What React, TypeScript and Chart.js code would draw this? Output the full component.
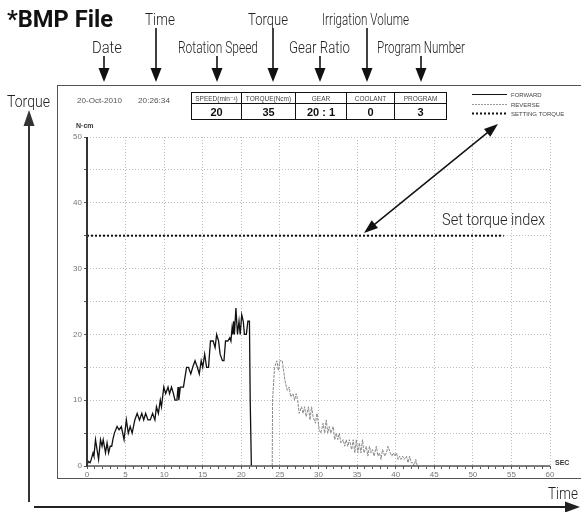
import { useEffect, useRef } from 'react';
import { Chart, registerables } from 'chart.js';

Chart.register(...registerables);

// ---- data ----
const forwardTime = [0, 0.15, 0.4, 0.55, 0.78, 0.9, 1.1, 1.5, 1.75, 1.95, 2.1, 2.4, 2.6, 2.8, 3.0, 3.2, 3.35, 3.55, 3.9, 4.15, 4.45, 4.8, 5.1, 5.35, 5.6, 5.85, 6.2, 6.5, 6.8, 7.1, 7.35, 7.6, 7.9, 8.2, 8.5, 8.8, 9.0, 9.25, 9.5, 9.65, 9.95, 10.2, 10.5, 10.7, 10.95, 11.2, 11.4, 11.65, 11.8, 11.9, 12.1, 12.5, 12.9, 13.15, 13.45, 13.7, 14.0, 14.3, 14.55, 14.8, 15.0, 15.25, 15.5, 15.75, 16.0, 16.35, 16.6, 16.8, 17.05, 17.25, 17.55, 17.75, 17.95, 18.25, 18.5, 18.65, 18.8, 18.9, 19.0, 19.1, 19.3, 19.5, 19.7, 19.85, 20.05, 20.25, 20.4, 20.65, 20.85, 21.05, 21.15, 21.3];
const forwardTorque = [0, 0.7, 0.5, 1, 2, 1.5, 4, 1, 4, 3, 4, 2, 3.5, 2, 3, 3, 4, 5, 6, 5.5, 6, 4, 7, 5, 6, 5, 7, 8, 7, 8, 7, 8, 7, 7, 8, 7, 9, 8, 10, 9, 12, 11, 12, 11, 12, 11, 10, 10, 12, 10, 12, 12, 15, 15, 14, 15, 16, 15, 14, 16, 15, 17, 15, 15, 19, 19, 18, 20, 19, 17, 16, 16, 19, 19, 19.5, 19, 21, 20, 22, 20, 24, 20, 22, 20, 23, 22, 20, 20, 22, 22, 10, 0];

const reverseTime = [24.0, 24.05, 24.3, 24.6, 24.8, 25.0, 25.3, 25.65, 25.95, 26.2, 26.4, 26.7, 26.9, 27.1, 27.3, 27.5, 27.8, 28.0, 28.2, 28.4, 28.7, 28.9, 29.1, 29.3, 29.6, 29.8, 30.1, 30.3, 30.6, 30.8, 31.0, 31.2, 31.4, 31.6, 31.9, 32.1, 32.3, 32.5, 32.7, 32.9, 33.2, 33.4, 33.6, 33.8, 34.0, 34.3, 34.5, 34.7, 34.9, 35.1, 35.3, 35.5, 35.7, 35.9, 36.2, 36.4, 36.6, 36.8, 37.0, 37.2, 37.5, 37.7, 37.9, 38.1, 38.3, 38.6, 38.8, 39.0, 39.3, 39.5, 39.7, 39.9, 40.1, 40.3, 40.5, 40.7, 40.9, 41.1, 41.4, 41.6, 41.8, 42.0, 42.2, 42.4, 42.6, 42.8, 43.0];
const reverseTorque = [0, 10, 15, 16, 14.5, 16, 16, 13, 11.5, 12, 10.5, 11, 10, 11, 10, 8, 9, 8, 9, 7.5, 9, 7, 9, 7.5, 6.5, 8, 5.5, 5, 6.5, 5, 7, 5, 6, 5, 6, 4, 5, 4, 5, 3.5, 4, 3, 4, 3, 4, 2.5, 4, 2, 4, 2, 3.5, 2, 4, 2, 3, 1.5, 3, 2, 2.5, 1.5, 3, 1.5, 2, 1, 2.5, 1.5, 2, 3, 2, 1.5, 2, 1.5, 2, 1, 1.5, 1, 1.5, 1, 1.5, 0.5, 1.5, 0.5, 0.5, 0, 1, 0, 0];

const settingTime = [0, 54];
const settingTorque = [35, 35];

const headerLabels = ['SPEED(min\u207B\u00B9)', 'TORQUE(Ncm)', 'GEAR', 'COOLANT', 'PROGRAM'];
const headerValues = ['20', '35', '20 : 1', '0', '3'];
const legendLabels = ['FORWARD', 'REVERSE', 'SETTING TORQUE'];
const dateText = '20-Oct-2010';
const timeText = '20:26:34';

const zip = (xs: number[], ys: number[]) => {
  const n = Math.min(xs.length, ys.length);
  const out: { x: number; y: number }[] = [];
  for (let i = 0; i < n; i++) out.push({ x: xs[i], y: ys[i] });
  return out;
};

const LABEL_FONT = '"Liberation Sans Narrow", "Roboto", "Liberation Sans", sans-serif';
const SMALL_FONT = '"Liberation Sans", "DejaVu Sans", sans-serif';

function fitText(ctx: CanvasRenderingContext2D, text: string, left: number, baseline: number, font: string, width: number, color: string) {
  ctx.save();
  ctx.font = font;
  ctx.fillStyle = color;
  ctx.textAlign = 'left';
  ctx.textBaseline = 'alphabetic';
  const w = ctx.measureText(text).width;
  ctx.translate(left, baseline);
  ctx.scale(width / w, 1);
  ctx.fillText(text, 0, 0);
  ctx.restore();
}

function arrowHead(ctx: CanvasRenderingContext2D, tx: number, ty: number, fx: number, fy: number, len: number, half: number) {
  const a = Math.atan2(ty - fy, tx - fx);
  const bx = tx - Math.cos(a) * len;
  const by = ty - Math.sin(a) * len;
  const px = -Math.sin(a) * half;
  const py = Math.cos(a) * half;
  ctx.beginPath();
  ctx.moveTo(tx, ty);
  ctx.lineTo(bx + px, by + py);
  ctx.lineTo(bx - px, by - py);
  ctx.closePath();
  ctx.fill();
}

function arrow(ctx: CanvasRenderingContext2D, x1: number, y1: number, x2: number, y2: number, width: number, len: number, half: number, color: string, both = false) {
  ctx.save();
  ctx.strokeStyle = color;
  ctx.fillStyle = color;
  ctx.lineWidth = width;
  const a = Math.atan2(y2 - y1, x2 - x1);
  const ex = x2 - Math.cos(a) * (len - 2);
  const ey = y2 - Math.sin(a) * (len - 2);
  const sx = both ? x1 + Math.cos(a) * (len - 2) : x1;
  const sy = both ? y1 + Math.sin(a) * (len - 2) : y1;
  ctx.beginPath();
  ctx.moveTo(sx, sy);
  ctx.lineTo(ex, ey);
  ctx.stroke();
  arrowHead(ctx, x2, y2, x1, y1, len, half);
  if (both) arrowHead(ctx, x1, y1, x2, y2, len, half);
  ctx.restore();
}

const annotations = {
  id: 'annotations',
  afterDatasetsDraw(chart: any) {
    // solid axis lines
    const ctx: CanvasRenderingContext2D = chart.ctx;
    const a = chart.chartArea;
    ctx.save();
    ctx.setLineDash([]);
    ctx.strokeStyle = '#555';
    ctx.lineWidth = 1.5;
    ctx.beginPath();
    ctx.moveTo(a.left, a.bottom);
    ctx.lineTo(a.right, a.bottom);
    ctx.stroke();
    ctx.strokeStyle = '#333';
    ctx.lineWidth = 2;
    ctx.beginPath();
    ctx.moveTo(a.left, a.top);
    ctx.lineTo(a.left, a.bottom + 0.75);
    ctx.stroke();
    ctx.restore();
  },
  afterDraw(chart: any) {
    const ctx: CanvasRenderingContext2D = chart.ctx;
    ctx.save();

    // outer frame
    ctx.strokeStyle = '#555';
    ctx.lineWidth = 1;
    ctx.strokeRect(57.5, 85.5, 560, 393);

    // titles / callouts
    fitText(ctx, '*BMP File', 7, 27, `bold 24px ${LABEL_FONT}`, 106, '#111');
    const dark = '#222';
    const f18 = `300 17px ${LABEL_FONT}`;
    fitText(ctx, 'Time', 145, 25, f18, 30, dark);
    fitText(ctx, 'Torque', 248, 25, f18, 40, dark);
    fitText(ctx, 'Irrigation Volume', 322, 25, f18, 87, dark);
    fitText(ctx, 'Date', 92, 53, f18, 30, dark);
    fitText(ctx, 'Rotation Speed', 178, 53, f18, 80, dark);
    fitText(ctx, 'Gear Ratio', 289, 53, f18, 61, dark);
    fitText(ctx, 'Program Number', 377, 53, f18, 88, dark);
    fitText(ctx, 'Torque', 7, 107, f18, 43, dark);
    fitText(ctx, 'Set torque index', 442, 225, f18, 103, dark);
    fitText(ctx, 'Time', 548, 499, f18, 30, dark);

    // down arrows
    const downs: [number, number][] = [[104, 56], [156, 28], [217, 56], [273, 28], [320, 56], [367, 28], [421, 56]];
    for (const [x, y0] of downs) arrow(ctx, x, y0, x, 82, 1.6, 14, 5.5, '#111');

    // axis arrows
    arrow(ctx, 29, 502, 29, 110, 2, 16, 5.5, '#333');
    arrow(ctx, 34, 507, 580, 507, 2, 15, 5.5, '#222');

    // set torque index double arrow
    arrow(ctx, 364, 233, 498, 124, 1.5, 14, 5, '#111', true);

    // date / time
    fitText(ctx, dateText, 77, 103, `7px ${SMALL_FONT}`, 45, '#555');
    fitText(ctx, timeText, 138, 103, `7px ${SMALL_FONT}`, 32, '#555');

    // table
    const xs = [191, 241, 295, 346, 394, 446];
    const ys = [92, 103, 119];
    ctx.strokeStyle = '#111';
    ctx.lineWidth = 1;
    ctx.strokeRect(xs[0] + 0.5, ys[0] + 0.5, xs[5] - xs[0], ys[2] - ys[0]);
    ctx.beginPath();
    ctx.moveTo(xs[0], ys[1] + 0.5);
    ctx.lineTo(xs[5], ys[1] + 0.5);
    for (let i = 1; i < 5; i++) {
      ctx.moveTo(xs[i] + 0.5, ys[0]);
      ctx.lineTo(xs[i] + 0.5, ys[2]);
    }
    ctx.stroke();
    ctx.textAlign = 'center';
    ctx.textBaseline = 'alphabetic';
    for (let i = 0; i < 5; i++) {
      const cx = (xs[i] + xs[i + 1]) / 2 + 0.5;
      ctx.fillStyle = '#444';
      ctx.font = `6.5px ${SMALL_FONT}`;
      ctx.fillText(headerLabels[i], cx, 100.5);
      ctx.fillStyle = '#111';
      ctx.font = `bold 11px ${SMALL_FONT}`;
      ctx.fillText(headerValues[i], cx, 116);
    }

    // legend
    const ly = [94.5, 104.5, 113.5];
    ctx.lineWidth = 1;
    ctx.strokeStyle = '#111';
    ctx.beginPath(); ctx.moveTo(472, ly[0]); ctx.lineTo(507, ly[0]); ctx.stroke();
    ctx.strokeStyle = '#999';
    ctx.setLineDash([2, 1]);
    ctx.beginPath(); ctx.moveTo(472, ly[1]); ctx.lineTo(507, ly[1]); ctx.stroke();
    ctx.strokeStyle = '#111';
    ctx.lineWidth = 2;
    ctx.setLineDash([2, 2]);
    ctx.beginPath(); ctx.moveTo(472, ly[2]); ctx.lineTo(507, ly[2]); ctx.stroke();
    ctx.setLineDash([]);
    ctx.textAlign = 'left';
    ctx.fillStyle = '#444';
    ctx.font = `6px ${SMALL_FONT}`;
    for (let i = 0; i < 3; i++) ctx.fillText(legendLabels[i], 511, ly[i] + 2.5);

    // unit labels
    ctx.fillStyle = '#333';
    ctx.font = `bold 7px ${SMALL_FONT}`;
    ctx.fillText('N\u00B7cm', 76, 128);
    ctx.fillText('SEC', 555, 465);

    ctx.restore();
  },
};

export default function App() {
  const ref = useRef<HTMLCanvasElement>(null);
  useEffect(() => {
    const canvas = ref.current;
    if (!canvas) return;
    const chart = new Chart(canvas, {
      type: 'line',
      data: {
        datasets: [
          {
            label: legendLabels[0],
            data: zip(forwardTime, forwardTorque),
            borderColor: '#111',
            borderWidth: 1.3,
            pointRadius: 0,
            tension: 0,
          },
          {
            label: legendLabels[1],
            data: zip(reverseTime, reverseTorque),
            borderColor: '#8a8a8a',
            borderWidth: 1,
            borderDash: [3, 1],
            pointRadius: 0,
            tension: 0,
          },
          {
            label: legendLabels[2],
            data: zip(settingTime, settingTorque),
            borderColor: '#111',
            borderWidth: 2,
            borderDash: [2, 2],
            pointRadius: 0,
            tension: 0,
          },
        ],
      },
      options: {
        animation: false,
        responsive: true,
        maintainAspectRatio: false,
        layout: { padding: { left: 57, right: 31, top: 137, bottom: 26 } },
        plugins: { legend: { display: false }, tooltip: { enabled: false } },
        scales: {
          x: {
            type: 'linear',
            min: 0,
            max: 60,
            afterFit: (s: any) => { s.height = 20; },
            ticks: {
              stepSize: 1,
              autoSkip: false,
              maxRotation: 0,
              padding: 1,
              color: '#777',
              font: { size: 8, family: SMALL_FONT },
              callback: (v: any) => (Number(v) % 5 === 0 ? String(v) : ''),
            },
            grid: {
              color: (c: any) => (c.tick && Number(c.tick.value) % 5 === 0 ? '#bbb' : 'rgba(0,0,0,0)'),
              tickColor: '#555',
              tickLength: 3,
              lineWidth: 1,
            },
            border: { display: false, dash: [1, 2] },
          },
          y: {
            type: 'linear',
            min: 0,
            max: 50,
            afterFit: (s: any) => { s.width = 30; },
            ticks: {
              stepSize: 5,
              padding: 2,
              color: '#777',
              font: { size: 8, family: SMALL_FONT },
              callback: (v: any) => (Number(v) % 10 === 0 ? String(v) : ''),
            },
            grid: {
              color: '#bbb',
              tickColor: '#555',
              tickLength: 3,
              lineWidth: 1,
            },
            border: { display: false, dash: [1, 2] },
          },
        },
      },
      plugins: [annotations],
    });
    return () => chart.destroy();
  }, []);
  return (
    <div style={{ position: 'absolute', left: 0, top: 0, width: 581, height: 512, background: '#fff' }}>
      <canvas ref={ref} />
    </div>
  );
}
